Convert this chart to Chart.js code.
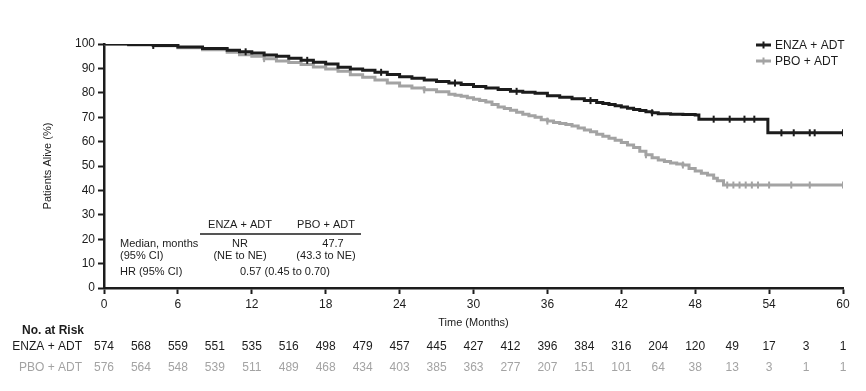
<!DOCTYPE html>
<html>
<head>
<meta charset="utf-8">
<script src="https://cdn.jsdelivr.net/npm/chart.js@4.4.1/dist/chart.umd.min.js"></script>
<style>
  html, body { margin: 0; padding: 0; background: #fff; }
  #wrap { position: relative; width: 866px; height: 391px; }
</style>
</head>
<body>
<div id="wrap"><canvas id="km" width="866" height="391"></canvas></div>
<script>
// KM curves (months, % alive)
const enzaT = [0, 2, 4, 6, 8, 10, 11, 12, 13, 14, 15, 16, 17, 18, 19, 20, 21, 22, 23, 24, 25, 26, 27, 28, 29, 30, 31, 32, 33, 34, 35, 36, 37, 38, 39, 40, 40.5, 41, 41.5, 42, 42.5, 43, 43.5, 44, 44.5, 45, 46, 47, 48, 48.3, 53.9, 60];
const enzaS = [100, 99.8, 99.4, 98.8, 98.2, 97.4, 96.8, 96.3, 95.5, 95, 94.2, 93.3, 92.5, 91.8, 90.5, 89.8, 89.2, 88.4, 87.5, 86.6, 86, 85.2, 84.6, 84, 83.4, 82.6, 82, 81.4, 80.6, 80.2, 79.8, 78.8, 78.2, 77.6, 76.8, 76, 75.6, 75.2, 74.7, 74.2, 73.7, 73.2, 72.7, 72.2, 71.8, 71.4, 71.2, 71.1, 70.9, 69.2, 63.6, 63.6];
const pboT = [0, 2, 4, 6, 8, 10, 11, 12, 13, 14, 15, 16, 17, 18, 19, 20, 21, 22, 23, 24, 25, 26, 27, 28, 28.5, 29, 29.5, 30, 30.5, 31, 31.5, 32, 32.5, 33, 33.5, 34, 34.5, 35, 35.5, 36, 36.5, 37, 37.5, 38, 38.5, 39, 39.5, 40, 40.5, 41, 41.5, 42, 42.5, 43, 43.5, 44, 44.5, 45, 45.5, 46, 46.5, 47, 47.5, 48, 48.5, 49, 49.5, 49.8, 50.3, 60];
const pboS = [100, 99.6, 99.3, 98.5, 97.6, 96.6, 95.6, 95, 94, 93, 92.4, 91.6, 90.6, 89.8, 88.8, 87.4, 86.4, 85.2, 84, 82.8, 82, 81.2, 80.4, 79.4, 79, 78.6, 78, 77.4, 76.8, 76.2, 75.2, 74.2, 73.6, 72.8, 72, 71.2, 70.6, 70, 69, 68.4, 67.8, 67.4, 67, 66.4, 65.6, 64.8, 64, 63, 62.2, 61.4, 60.6, 59.6, 58.6, 57.6, 56, 54.6, 53.4, 52.5, 51.8, 51.2, 50.8, 50.4, 49, 48, 47, 46.3, 45, 44, 42.2, 42.2];

// censored times (tick marks)
const enzaCens = [4, 11.5, 16.5, 22.5, 28.5, 33.5, 39.5, 44.5, 49.5, 50.8, 52, 52.8, 55, 56, 57.3, 57.7, 60];
const pboCens = [13, 26, 36, 44, 47, 50.6, 51.1, 51.6, 52.1, 52.6, 53.1, 54, 55.8, 57.3, 60];

// numbers at risk every 3 months
const riskTimes = [0, 3, 6, 9, 12, 15, 18, 21, 24, 27, 30, 33, 36, 39, 42, 45, 48, 51, 54, 57, 60];
const enzaRisk = [574, 568, 559, 551, 535, 516, 498, 479, 457, 445, 427, 412, 396, 384, 316, 204, 120, 49, 17, 3, 1];
const pboRisk = [576, 564, 548, 539, 511, 489, 468, 434, 403, 385, 363, 277, 207, 151, 101, 64, 38, 13, 3, 1, 1];

const seriesNames = ['ENZA + ADT', 'PBO + ADT'];
const xTicks = [0, 6, 12, 18, 24, 30, 36, 42, 48, 54, 60];

const BLACK = '#1c1c1c';
const GREY = '#a3a3a3';
const FONT = "'Liberation Sans Narrow', 'Arial Narrow', 'Liberation Sans', Arial, sans-serif";

function survAt(T, S, t) {
  let v = S[0];
  for (let i = 0; i < T.length; i++) { if (T[i] <= t) v = S[i]; }
  return v;
}
function pts(T, S) { return T.map((t, i) => ({x: t, y: S[i]})); }
function censPts(C, T, S) { return C.map(t => ({x: t, y: survAt(T, S, t)})); }

Chart.defaults.font.family = FONT;
Chart.defaults.color = BLACK;

const overlay = {
  id: 'overlay',
  afterDraw(chart) {
    const ctx = chart.ctx;
    const xs = chart.scales.x;
    const area = chart.chartArea;
    ctx.save();

    // legend
    const leg = [[seriesNames[0], BLACK, 45], [seriesNames[1], GREY, 61]];
    leg.forEach(([name, col, y]) => {
      ctx.strokeStyle = col;
      ctx.lineWidth = 3;
      ctx.beginPath(); ctx.moveTo(756, y); ctx.lineTo(771, y); ctx.stroke();
      ctx.lineWidth = 2;
      ctx.beginPath(); ctx.moveTo(763.5, y - 3.5); ctx.lineTo(763.5, y + 3.5); ctx.stroke();
      ctx.fillStyle = BLACK;
      ctx.font = '12px ' + FONT;
      ctx.textAlign = 'left'; ctx.textBaseline = 'middle';
      ctx.fillText(name, 775, y + 1);
    });

    // inset summary table
    ctx.fillStyle = BLACK;
    ctx.font = '11px ' + FONT;
    ctx.textBaseline = 'middle';
    ctx.textAlign = 'center';
    ctx.fillText('ENZA + ADT', 240, 225);
    ctx.fillText('PBO + ADT', 326, 225);
    ctx.strokeStyle = BLACK; ctx.lineWidth = 1.5;
    ctx.beginPath(); ctx.moveTo(200, 234); ctx.lineTo(361, 234); ctx.stroke();
    ctx.fillText('NR', 240, 244);
    ctx.fillText('(NE to NE)', 240, 256);
    ctx.fillText('47.7', 333, 244);
    ctx.fillText('(43.3 to NE)', 326, 256);
    ctx.textAlign = 'left';
    ctx.fillText('Median, months', 120, 244);
    ctx.fillText('(95% CI)', 120, 256);
    ctx.fillText('HR (95% CI)', 120, 272);
    ctx.fillText('0.57 (0.45 to 0.70)', 240, 272);

    // x axis title
    ctx.font = '11px ' + FONT;
    ctx.textAlign = 'center';
    ctx.fillText('Time (Months)', (area.left + area.right) / 2, 323);

    // number at risk table
    ctx.font = 'bold 12px ' + FONT;
    ctx.textAlign = 'left';
    ctx.fillText('No. at Risk', 22, 331);
    ctx.textAlign = 'right';
    ctx.font = '12px ' + FONT;
    ctx.fillStyle = BLACK;
    ctx.fillText(seriesNames[0], 82, 347);
    ctx.fillStyle = GREY;
    ctx.fillText(seriesNames[1], 82, 368);
    ctx.textAlign = 'center';
    riskTimes.forEach((t, i) => {
      const px = xs.getPixelForValue(t);
      ctx.fillStyle = BLACK;
      ctx.fillText(String(enzaRisk[i]), px, 347);
      ctx.fillStyle = GREY;
      ctx.fillText(String(pboRisk[i]), px, 368);
    });
    ctx.restore();
  }
};

new Chart(document.getElementById('km'), {
  type: 'scatter',
  data: {
    datasets: [
      {label: seriesNames[1], data: pts(pboT, pboS), showLine: true, stepped: true,
       borderColor: GREY, borderWidth: 3, pointRadius: 0, order: 2},
      {label: seriesNames[1] + ' censored', data: censPts(pboCens, pboT, pboS), showLine: false,
       pointStyle: 'line', rotation: 90, pointRadius: 3.5, borderColor: GREY, borderWidth: 2, order: 2},
      {label: seriesNames[0], data: pts(enzaT, enzaS), showLine: true, stepped: true,
       borderColor: BLACK, borderWidth: 3, pointRadius: 0, order: 1},
      {label: seriesNames[0] + ' censored', data: censPts(enzaCens, enzaT, enzaS), showLine: false,
       pointStyle: 'line', rotation: 90, pointRadius: 3.5, borderColor: BLACK, borderWidth: 2, order: 1}
    ]
  },
  options: {
    responsive: false,
    animation: false,
    layout: {padding: {left: 0, right: 23, top: 44, bottom: 0}},
    plugins: {legend: {display: false}, tooltip: {enabled: false}},
    scales: {
      x: {
        type: 'linear', min: 0, max: 60,
        afterBuildTicks: s => { s.ticks = xTicks.map(v => ({value: v})); },
        afterFit: s => { s.height = 103; },
        border: {color: BLACK, width: 2.5},
        grid: {drawOnChartArea: false, color: BLACK, tickLength: 6, tickWidth: 2},
        ticks: {color: BLACK, font: {size: 12}, padding: 3, maxRotation: 0}
      },
      y: {
        min: 0, max: 100,
        afterFit: s => { s.width = 104; },
        border: {color: BLACK, width: 2.5},
        grid: {drawOnChartArea: false, color: BLACK, tickLength: 6, tickWidth: 2},
        ticks: {color: BLACK, stepSize: 10, font: {size: 12}, padding: 3},
        title: {display: true, text: 'Patients Alive (%)', color: BLACK, font: {size: 11}, padding: {top: 41, bottom: 0}}
      }
    }
  },
  plugins: [overlay]
});
</script>
</body>
</html>
